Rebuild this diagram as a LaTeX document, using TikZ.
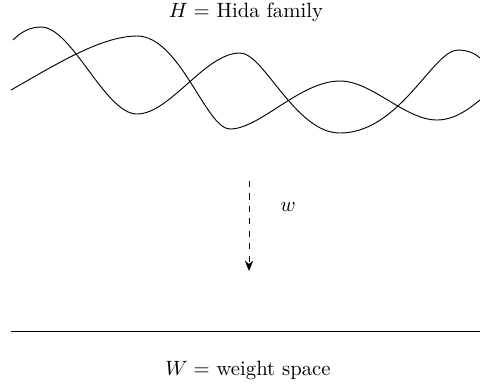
\documentclass[tikz,border=0pt]{standalone}
\usetikzlibrary{arrows.meta}
\begin{document}
\begin{tikzpicture}[x=0.483pt,y=-0.483pt,
  curve/.style={line width=0.45pt},
  lbl/.style={inner sep=0pt}]
\useasboundingbox (0,0) rectangle (480,390);
\node[lbl] (H) at (246,12) {$H=$ Hida family};
\node[lbl] (W) at (248,370) {$W=$ weight space};
\draw[curve] (13,40) .. controls (21,32) and (30,27) .. (41,27)
  .. controls (72,27) and (105,114) .. (137,114)
  .. controls (170,114) and (205,53) .. (240,53)
  .. controls (264,53) and (295,133) .. (340,133)
  .. controls (400,133) and (433,50) .. (458,50)
  .. controls (468,50) and (476,54) .. (480,58);
\draw[curve] (11,90) .. controls (51,67.5) and (100,36) .. (137,36)
  .. controls (180,36) and (206,129) .. (230,129)
  .. controls (260,129) and (300,81) .. (340,81)
  .. controls (372,81) and (405,120) .. (437,120)
  .. controls (455,120) and (470,108) .. (480,100);
\coordinate (a1) at (249,181);
\coordinate (a2) at (249,271);
\draw[dashed,-{Stealth[length=5pt,width=4pt]}] (a1) -- (a2);
\node[lbl] (w) at (288,207) {$w$};
\coordinate (l1) at (11,331);
\coordinate (l2) at (480,331);
\draw (l1) -- (l2);
\end{tikzpicture}
\end{document}
